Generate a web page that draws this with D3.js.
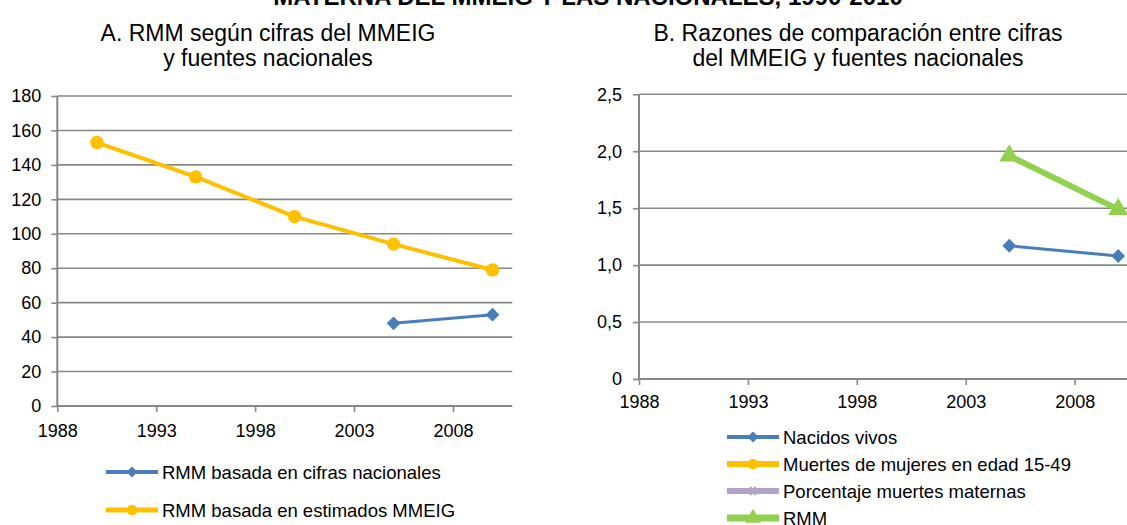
<!DOCTYPE html>
<html>
<head>
<meta charset="utf-8">
<script src="https://cdn.jsdelivr.net/npm/d3@7"></script>
<style>
  html, body { margin: 0; padding: 0; background: #fff; overflow: hidden; }
  svg { display: block; font-family: "Liberation Sans", Arial, sans-serif; }
</style>
</head>
<body>
<svg id="chart" width="1127" height="525"></svg>
<script>
// ---------- DATA ----------
const mainTitle = "MATERNA DEL MMEIG Y LAS NACIONALES, 1990-2010";
const titleA = ["A. RMM según cifras del MMEIG", "y fuentes nacionales"];
const titleB = ["B. Razones de comparación entre cifras", "del MMEIG y fuentes nacionales"];

const years = [1990, 1995, 2000, 2005, 2010];
const rmmNacional = [null, null, null, 48, 53];
const rmmMmeig = [153, 133, 110, 94, 79];

const nacidosVivos = [null, null, null, 1.17, 1.08];
const muertesMujeres = [null, null, null, null, null];
const porcentajeMuertes = [null, null, null, null, null];
const rmmRazon = [null, null, null, 1.96, 1.49];

const xTicks = [1988, 1993, 1998, 2003, 2008];
const yTicksA = [0, 20, 40, 60, 80, 100, 120, 140, 160, 180];
const yTicksB = [0, 0.5, 1.0, 1.5, 2.0, 2.5];

const seriesA = [
  { name: "RMM basada en cifras nacionales", values: rmmNacional, color: "#4A7EBB", marker: "diamond", width: 3 },
  { name: "RMM basada en estimados MMEIG", values: rmmMmeig, color: "#FFC000", marker: "circle", width: 4 }
];
const seriesB = [
  { name: "Nacidos vivos", values: nacidosVivos, color: "#4A7EBB", marker: "diamond", width: 3 },
  { name: "Muertes de mujeres en edad 15-49", values: muertesMujeres, color: "#FFC000", marker: "circle", width: 5 },
  { name: "Porcentaje muertes maternas", values: porcentajeMuertes, color: "#B3A2C7", marker: "x", width: 5 },
  { name: "RMM", values: rmmRazon, color: "#92D050", marker: "triangle", width: 6 }
];

// ---------- DRAW ----------
const svg = d3.select("#chart");
const gridColor = "#878787";
const fontTick = 18;
const fontLegend = 18.5;
const ff = "Liberation Sans, Arial, sans-serif";

svg.append("text")
  .attr("x", 588).attr("y", 5)
  .attr("text-anchor", "middle")
  .attr("font-size", 24).attr("font-weight", "bold")
  .attr("fill", "#000")
  .text(mainTitle);

function markerPath(type, scale) {
  const s = scale || 1;
  if (type === "diamond") return d3.symbol().type(d3.symbolSquare).size(95 * s * s)();
  if (type === "circle") return d3.symbol().type(d3.symbolCircle).size(140 * s * s)();
  if (type === "triangle") return d3.symbol().type(d3.symbolTriangle).size(175 * s * s)();
  if (type === "x") return d3.symbol().type(d3.symbolCross).size(60 * s * s)();
  return null;
}
function markerRotate(type) {
  return (type === "diamond" || type === "x") ? 45 : 0;
}

function drawChart(cfg) {
  const g = svg.append("g");
  const x = d3.scaleLinear().domain([1988, 2011]).range([cfg.left, cfg.right]);
  const y = d3.scaleLinear().domain(cfg.yDomain).range([cfg.bottom, cfg.top]);

  // title
  cfg.title.forEach((t, i) => {
    g.append("text")
      .attr("x", cfg.titleX).attr("y", cfg.titleY + i * 25)
      .attr("text-anchor", "middle")
      .attr("font-size", 23)
      .attr("fill", "#000")
      .text(t);
  });

  // gridlines
  g.append("g").selectAll("line")
    .data(cfg.yTicks.filter(d => d !== 0))
    .join("line")
    .attr("x1", cfg.left).attr("x2", cfg.right)
    .attr("y1", d => y(d)).attr("y2", d => y(d))
    .attr("stroke", gridColor).attr("stroke-width", 1.6);

  // y axis
  const yAxis = d3.axisLeft(y).tickValues(cfg.yTicks).tickSize(6).tickPadding(cfg.yPad).tickFormat(cfg.yFormat);
  const ya = g.append("g").attr("transform", `translate(${cfg.left},0)`).call(yAxis);
  ya.select(".domain").attr("stroke", gridColor).attr("stroke-width", 2)
    .attr("d", `M0,${cfg.bottom}V${cfg.top}`);
  ya.selectAll(".tick line").attr("stroke", gridColor).attr("stroke-width", 1.6);
  ya.selectAll(".tick text").attr("font-size", fontTick).attr("fill", "#000").attr("font-family", ff);

  // x axis
  const xAxis = d3.axisBottom(x).tickValues(cfg.xTicks).tickSize(6).tickPadding(cfg.xPad).tickFormat(d3.format("d"));
  const xa = g.append("g").attr("transform", `translate(0,${cfg.bottom})`).call(xAxis);
  xa.select(".domain").attr("stroke", gridColor).attr("stroke-width", 2)
    .attr("d", `M${cfg.left},0H${cfg.right}`);
  xa.selectAll(".tick line").attr("stroke", gridColor).attr("stroke-width", 1.6);
  xa.selectAll(".tick text").attr("font-size", fontTick).attr("fill", "#000").attr("font-family", ff);

  // series
  cfg.series.forEach(s => {
    const pts = cfg.xVals.map((xv, i) => ({ x: xv, v: s.values[i] })).filter(p => p.v != null);
    const line = d3.line().x(p => x(p.x)).y(p => y(p.v));
    g.append("path").datum(pts)
      .attr("d", line).attr("fill", "none")
      .attr("stroke", s.color).attr("stroke-width", s.width)
      .attr("stroke-linejoin", "round");
    g.append("g").selectAll("path").data(pts).join("path")
      .attr("d", markerPath(s.marker, 1))
      .attr("transform", p => `translate(${x(p.x)},${y(p.v)}) rotate(${markerRotate(s.marker)})`)
      .attr("fill", s.color)
      .attr("stroke", s.marker === "x" ? s.color : "none");
  });

  // legend
  cfg.series.forEach((s, i) => {
    const ly = cfg.legendY + i * cfg.legendStep;
    const lg = g.append("g");
    lg.append("line")
      .attr("x1", cfg.legendX).attr("x2", cfg.legendX + 52)
      .attr("y1", ly).attr("y2", ly)
      .attr("stroke", s.color).attr("stroke-width", s.width + 1);
    lg.append("path")
      .attr("d", markerPath(s.marker, 0.8))
      .attr("transform", `translate(${cfg.legendX + 26},${ly}) rotate(${markerRotate(s.marker)})`)
      .attr("fill", s.color)
      .attr("stroke", s.marker === "x" ? s.color : "none");
    lg.append("text")
      .attr("x", cfg.legendX + 56).attr("y", ly + 6.5)
      .attr("font-size", fontLegend).attr("fill", "#000")
      .text(s.name);
  });
}

drawChart({
  left: 57.3, right: 512.3, top: 96, bottom: 406,
  yDomain: [0, 180], yTicks: yTicksA, xTicks: xTicks, xVals: years,
  yFormat: d3.format("d"), yPad: 10, xPad: 12,
  title: titleA, titleX: 268, titleY: 41,
  series: seriesA,
  legendX: 106, legendY: 472, legendStep: 38
});

drawChart({
  left: 639, right: 1140, top: 94.3, bottom: 379,
  yDomain: [0, 2.5], yTicks: yTicksB, xTicks: xTicks, xVals: years,
  yFormat: d => d === 0 ? "0" : d.toFixed(1).replace(".", ","), yPad: 11, xPad: 10,
  title: titleB, titleX: 858, titleY: 41,
  series: seriesB,
  legendX: 727, legendY: 437, legendStep: 27
});
</script>
</body>
</html>
